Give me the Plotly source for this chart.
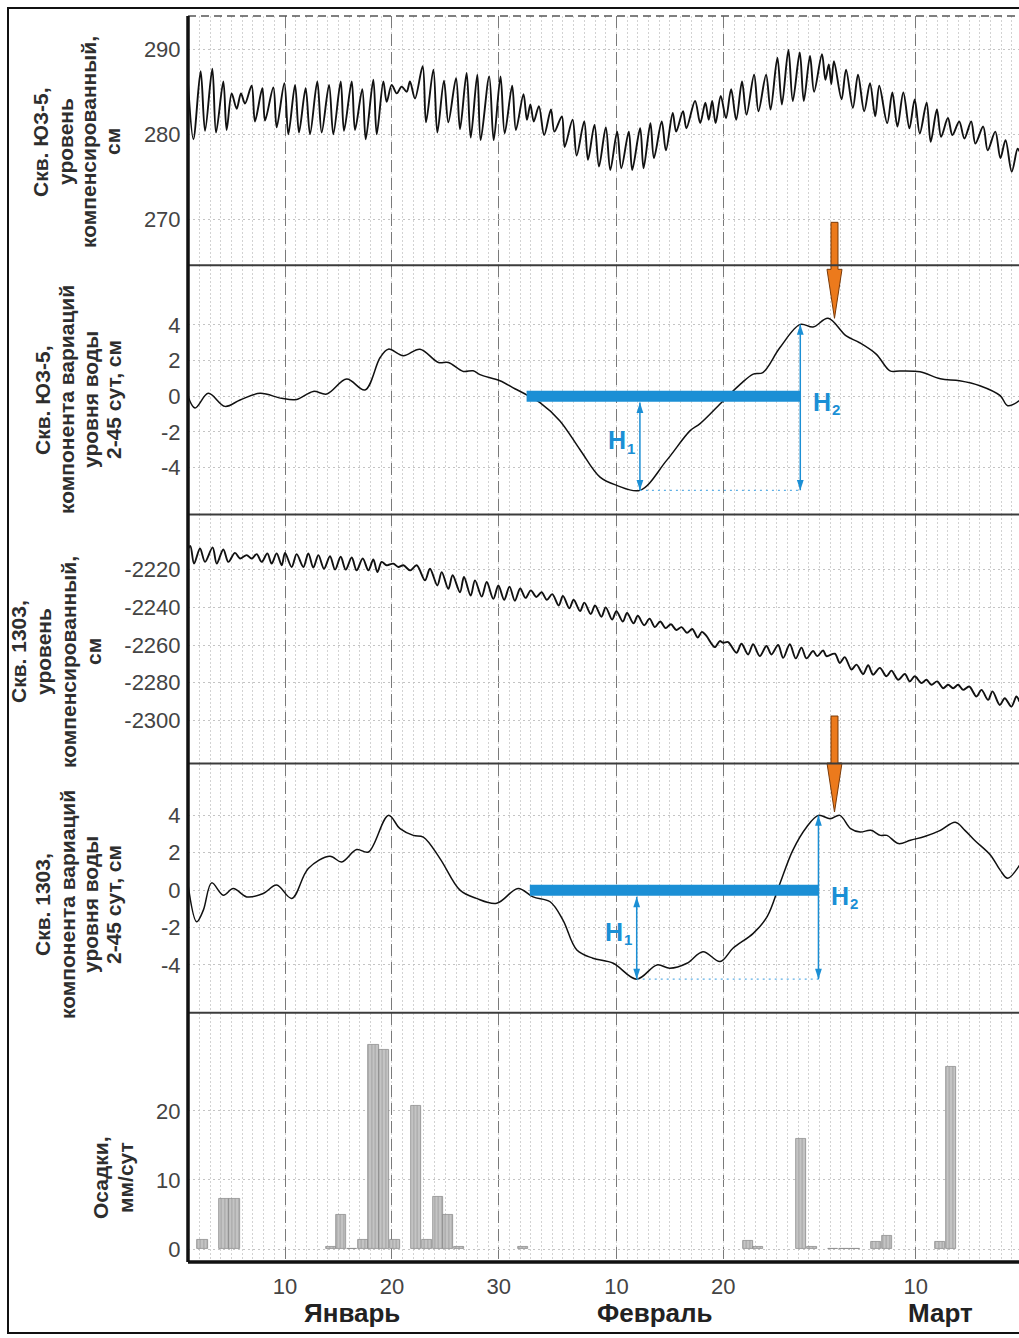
import plotly.graph_objects as go
from plotly.subplots import make_subplots

# ---------------- data (day numbers counted from 1 January) ----------------
# Well YuZ-5, compensated water level, cm (successive crests and troughs)
yz5_level_day = [0.93, 1.43, 2.11, 2.52, 3.20, 3.55, 4.23, 4.54, 5.01, 5.48, 5.88, 6.26, 6.88, 7.19,
                 7.88, 8.13, 8.91, 9.22, 9.94, 10.31, 10.94, 11.31, 11.93, 12.34, 13.02, 13.43, 14.12,
                 14.52, 15.21, 15.52, 16.24, 16.55, 17.23, 17.55, 18.26, 18.58, 19.20, 19.51, 19.98,
                 20.45, 20.91, 21.38, 21.69, 22.16, 22.88, 23.19, 23.88, 24.25, 24.87, 25.28, 26.00,
                 26.37, 26.99, 27.37, 27.99, 28.30, 29.10, 29.52, 30.16, 30.55, 31.25, 31.60, 32.31,
                 32.63, 32.95, 33.27, 33.75, 34.24, 34.88, 35.20, 35.90, 36.16, 36.90, 37.28, 37.99,
                 38.34, 38.95, 39.37, 40.01, 40.43, 41.07, 41.46, 42.16, 42.48, 43.22, 43.54, 44.18,
                 44.51, 45.24, 45.63, 46.27, 46.59, 47.23, 47.55, 48.36, 48.84, 49.32, 49.64, 49.96,
                 50.28, 50.76, 51.25, 51.73, 52.21, 52.75, 53.17, 53.88, 54.29, 55.00, 55.42, 56.06,
                 56.48, 57.09, 57.50, 58.15, 58.53, 59.11, 59.49, 60.23, 60.55, 60.87, 61.10, 61.35,
                 62.06, 62.48, 63.12, 63.60, 64.18, 64.72, 65.21, 65.59, 66.33, 66.81, 67.29, 67.84,
                 68.41, 68.90, 69.38, 70.02, 70.40, 70.98, 71.37, 72.01, 72.43, 73.07, 73.55, 74.19,
                 74.58, 75.31, 75.73, 76.44, 76.92, 77.40, 77.98, 78.53, 78.70]
yz5_level = [286.0, 279.4, 287.4, 280.4, 287.7, 280.2, 286.2, 280.5, 284.8, 283.0, 284.8, 283.6, 285.7,
             281.5, 285.4, 281.6, 285.5, 280.8, 286.0, 280.0, 285.8, 280.2, 285.4, 280.0, 286.2, 280.2,
             285.8, 280.0, 286.2, 280.4, 286.2, 280.5, 285.3, 279.4, 286.4, 280.0, 286.2, 283.8, 285.8,
             284.8, 285.6, 285.0, 286.2, 284.2, 288.0, 281.4, 287.6, 280.2, 286.3, 281.4, 286.6, 280.6,
             287.2, 279.6, 287.0, 279.3, 286.8, 279.3, 286.8, 280.1, 285.7, 280.5, 284.7, 281.7, 283.5,
             281.5, 283.3, 279.9, 282.9, 280.3, 282.1, 278.5, 281.7, 277.5, 281.5, 277.0, 281.1, 276.2,
             280.8, 275.8, 280.3, 276.0, 280.3, 275.8, 280.7, 276.0, 281.3, 277.2, 281.5, 278.1, 282.5,
             280.3, 282.7, 280.7, 283.9, 281.3, 283.7, 281.7, 283.9, 281.3, 284.5, 281.9, 285.3, 281.7,
             286.2, 282.3, 287.0, 282.7, 287.0, 282.9, 289.0, 283.5, 289.9, 283.9, 289.6, 283.9, 289.2,
             285.0, 289.4, 286.4, 288.2, 285.9, 288.6, 284.1, 287.6, 283.1, 287.0, 282.7, 286.0, 282.1,
             285.7, 281.3, 284.9, 280.9, 284.9, 280.7, 284.1, 280.1, 283.7, 279.1, 282.9, 279.7, 281.9,
             279.9, 281.5, 279.5, 281.5, 278.9, 280.9, 278.1, 280.3, 277.2, 279.3, 275.6, 278.3, 278.0]

# Well YuZ-5, 2-45 day component of level variations, cm
yz5_comp_day = [0.93, 1.58, 2.83, 4.39, 5.8, 7.67, 9.69, 11.09, 12.65, 13.9, 15.77, 17.48, 18.9, 19.67,
                21.07, 22.63, 24.35, 25.28, 26.68, 27.6, 28.24, 30.1, 31.5, 32.6, 33.85, 35.7, 37.6,
                39.47, 41.03, 43.2, 45.7, 47.9, 48.8, 51.0, 52.6, 53.8, 54.7, 56.3, 58.2, 59.4, 60.8,
                62.5, 63.75, 65.3, 66.6, 67.5, 69.4, 71.3, 73.1, 75.0, 76.9, 77.6, 78.7]
yz5_comp = [0.0, -0.66, 0.16, -0.57, -0.21, 0.16, -0.12, -0.18, 0.27, 0.12, 0.96, 0.35, 2.17, 2.64,
            2.27, 2.64, 1.89, 1.89, 1.39, 1.43, 1.21, 0.87, 0.42, 0.08, -0.36, -1.37, -3.0,
            -4.54, -5.0, -5.28, -3.6, -1.93, -1.55, -0.25, 0.68, 1.24, 1.33, 2.73, 4.03, 3.88, 4.37,
            3.38, 3.0, 2.36, 1.42, 1.42, 1.37, 0.98, 0.87, 0.59, 0.03, -0.53, -0.25]

# Well 1303, compensated water level, cm (successive crests and troughs)
w1303_level_day = [0.93, 1.15, 1.49, 2.05, 2.52, 3.23, 3.61, 4.23, 4.70, 5.32, 5.79, 6.41, 6.88, 7.35,
                   7.82, 8.35, 8.75, 9.22, 9.69, 10.00, 10.62, 11.09, 11.72, 12.18, 12.65, 13.12,
                   13.65, 14.21, 14.68, 15.21, 15.68, 16.24, 16.70, 17.27, 17.80, 18.26, 18.64, 19.04,
                   19.51, 20.13, 20.60, 21.07, 21.70, 22.32, 23.10, 23.56, 24.25, 24.66, 25.28, 25.68,
                   26.37, 26.74, 27.37, 27.77, 28.40, 28.87, 29.49, 29.96, 30.5, 31.0, 31.5, 32.0,
                   32.5, 33.0, 33.5, 34.0, 34.5, 35.0, 35.6, 36.0, 36.6, 37.0, 37.6, 38.0, 38.6, 39.0,
                   39.6, 40.0, 40.6, 41.0, 41.6, 42.0, 42.6, 43.0, 43.6, 44.1, 44.6, 45.1, 45.6, 46.1,
                   46.6, 47.1, 47.6, 48.1, 48.6, 49.0, 49.42, 50.20, 50.67, 51.00, 51.45, 52.23,
                   52.70, 53.32, 53.79, 54.41, 55.04, 55.50, 56.13, 56.60, 57.22, 57.78, 58.31, 58.78,
                   59.40, 59.78, 60.34, 60.65, 61.43, 61.90, 62.36, 62.99, 63.46, 64.08, 64.55, 65.01,
                   65.64, 66.26, 66.73, 67.35, 67.98, 68.44, 68.91, 69.54, 70.00, 70.47, 71.00, 71.56,
                   72.03, 72.50, 72.97, 73.43, 74.00, 74.68, 75.15, 75.77, 76.18, 76.86, 77.33, 77.95,
                   78.42, 78.70]
w1303_level = [-2209.0, -2207.5, -2216.8, -2208.8, -2215.9, -2208.2, -2216.8, -2209.3, -2215.9,
               -2211.1, -2214.1, -2212.3, -2214.1, -2211.8, -2215.9, -2211.4, -2216.8, -2211.4,
               -2217.7, -2211.1, -2218.6, -2211.8, -2218.6, -2211.4, -2218.9, -2212.3, -2219.5,
               -2212.9, -2220.0, -2213.2, -2220.0, -2213.6, -2220.4, -2214.1, -2220.4, -2214.6,
               -2221.3, -2215.9, -2217.7, -2216.8, -2218.6, -2217.7, -2220.4, -2217.7, -2225.7,
               -2219.5, -2228.4, -2221.3, -2230.2, -2223.0, -2232.0, -2223.9, -2233.8, -2225.7,
               -2234.3, -2226.6, -2235.5, -2228.4, -2236.0, -2229.0, -2236.5, -2230.0, -2235.0,
               -2231.0, -2234.5, -2232.0, -2236.0, -2233.0, -2239.0, -2234.0, -2240.5, -2236.0,
               -2242.0, -2237.5, -2243.5, -2239.0, -2245.0, -2240.0, -2246.5, -2242.0, -2247.5,
               -2243.0, -2248.5, -2244.5, -2249.5, -2246.0, -2250.5, -2247.5, -2251.0, -2249.0,
               -2252.0, -2250.5, -2253.5, -2251.5, -2256.0, -2253.0, -2255.2, -2261.1, -2257.9,
               -2258.8, -2258.4, -2264.1, -2259.3, -2265.0, -2259.6, -2265.9, -2260.5, -2265.0,
               -2260.0, -2266.8, -2259.6, -2267.1, -2261.4, -2267.1, -2263.2, -2265.9, -2262.9,
               -2265.9, -2264.6, -2269.5, -2266.4, -2273.0, -2270.4, -2275.4, -2270.7, -2275.7,
               -2272.1, -2276.6, -2273.6, -2278.4, -2275.4, -2279.3, -2276.6, -2280.2, -2278.4,
               -2281.1, -2279.3, -2282.9, -2281.1, -2282.9, -2281.1, -2283.8, -2282.0, -2287.3,
               -2283.8, -2289.1, -2284.6, -2291.8, -2288.2, -2292.7, -2287.3, -2290.0]

# Well 1303, 2-45 day component of level variations, cm
w1303_comp_day = [0.93, 1.74, 2.36, 3.14, 4.23, 5.16, 6.42, 7.97, 9.22, 10.63, 12.18, 14.2, 15.3, 16.7,
                  17.8, 19.67, 20.76, 22.0, 22.94, 24.5, 26.37, 27.9, 29.8, 31.8, 33.2, 34.8, 36.0,
                  37.3, 38.8, 40.7, 42.9, 44.8, 46.0, 47.6, 49.1, 50.7, 51.9, 53.8, 55.1, 56.3, 57.5,
                  58.8, 59.9, 61.0, 61.9, 62.9, 63.8, 64.8, 65.7, 66.3, 67.4, 68.5, 69.9, 71.3, 72.7,
                  73.6, 74.5, 76.0, 76.9, 77.6, 78.7]
w1303_comp = [0.3, -1.69, -1.07, 0.39, -0.27, 0.09, -0.36, -0.18, 0.27, -0.44, 1.16, 1.81, 1.51, 2.17,
              2.04, 4.0, 3.29, 2.93, 2.84, 1.69, 0.0, -0.44, -0.7, 0.09, -0.36, -0.62, -1.6,
              -3.2, -3.64, -3.91, -4.76, -4.0, -4.18, -3.91, -3.29, -3.82, -3.11, -2.31, -1.42, 0.36, 2.13,
              3.38, 4.0, 3.82, 4.0, 3.29, 3.11, 3.2, 2.93, 2.93, 2.49, 2.67, 2.88, 3.2, 3.63,
              3.2, 2.67, 1.87, 1.07, 0.64, 1.33]

# Daily precipitation, mm/day
precip_day = [2, 4, 5, 14, 15, 16, 17, 18, 19, 20, 22, 23, 24, 25, 26, 32, 53, 54, 58, 59, 61, 62,
              63, 65, 66, 71, 72]
precip_mm = [1.4, 7.3, 7.3, 0.3, 5.0, 0.1, 1.3, 29.6, 28.9, 1.3, 20.7, 1.4, 7.6, 4.9, 0.3, 0.3, 1.2,
             0.3, 16.0, 0.3, 0.1, 0.1, 0.1, 1.1, 1.9, 1.1, 26.4]

# Axis labelling
tick_days = [10, 20, 30, 41, 51, 69]
tick_text = ["10", "20", "30", "10", "20", "10"]
month_names = ["Январь", "Февраль", "Март"]
month_centers = [16.3, 44.6, 71.3]
y_ticks = [[270, 280, 290], [-4, -2, 0, 2, 4], [-2300, -2280, -2260, -2240, -2220],
           [-4, -2, 0, 2, 4], [0, 10, 20]]

# H1 / H2 construction for the two filtered series (rows 2 and 4)
h_start_day = [32.6, 32.9]
h_min_day = [43.2, 42.9]
h_min_val = [-5.28, -4.76]
h_peak_day = [58.2, 59.9]
h_peak_val = [4.03, 4.0]
h1_top = -0.35
event_day = 61.4
event_val = [4.37, 4.18]

# ---------------- figure ----------------
FONT = "Liberation Sans, Arial, sans-serif"
BLUE = "#1b8fd5"
ORANGE = "#ec7a1c"
W, H = 1019, 1338
ML, MT, MB = 188, 16, 76
PW, PH = W - ML, H - MT - MB

x_range = [0.926, 78.66]
y_ranges = [[264.6, 293.9], [-6.63, 7.35], [-2322.9, -2190.7], [-6.56, 6.77], [-1.88, 34.2]]
domains = [[0.8, 1.0], [0.6, 0.8], [0.4, 0.6], [0.2, 0.4], [0.0, 0.2]]

fig = make_subplots(rows=5, cols=1, shared_xaxes=True, vertical_spacing=0)

line_kw = dict(mode="lines", showlegend=False, hoverinfo="skip")
fig.add_trace(go.Scatter(x=yz5_level_day, y=yz5_level, line=dict(color="#111", width=1.9, shape="spline", smoothing=0.9), **line_kw), row=1, col=1)
fig.add_trace(go.Scatter(x=yz5_comp_day, y=yz5_comp, line=dict(color="#111", width=1.5, shape="spline", smoothing=1.0), **line_kw), row=2, col=1)
fig.add_trace(go.Scatter(x=w1303_level_day, y=w1303_level, line=dict(color="#111", width=1.9, shape="spline", smoothing=0.9), **line_kw), row=3, col=1)
fig.add_trace(go.Scatter(x=w1303_comp_day, y=w1303_comp, line=dict(color="#111", width=1.5, shape="spline", smoothing=1.0), **line_kw), row=4, col=1)
fig.add_trace(go.Bar(x=precip_day, y=precip_mm, width=0.95, offset=-0.2, showlegend=False, hoverinfo="skip",
                     marker=dict(color="#bdbdbd", line=dict(color="#858585", width=0.7),
                                 pattern=dict(shape="|", fgcolor="#8a8a8a", bgcolor="#c4c4c4", size=3.5, solidity=0.35))),
              row=5, col=1)

# H1 / H2 markup on the filtered series
for i, row in enumerate([2, 4]):
    xr, yr = f"x{row}", f"y{row}"
    # horizontal reference bar at zero
    fig.add_trace(go.Scatter(x=[h_start_day[i], h_peak_day[i]], y=[0, 0], mode="lines",
                             line=dict(color=BLUE, width=11), showlegend=False, hoverinfo="skip"), row=row, col=1)
    # dotted line joining the trough level to the H2 arrow
    fig.add_trace(go.Scatter(x=[h_min_day[i], h_peak_day[i]], y=[h_min_val[i], h_min_val[i]], mode="lines",
                             line=dict(color="#5fb0e6", width=1.3, dash="2px,4px"), showlegend=False, hoverinfo="skip"),
                  row=row, col=1)
    # H1 and H2 double-headed arrows
    arrow_marker = dict(symbol="arrow", size=11, angle=[0, 180], color=BLUE, line=dict(width=0))
    fig.add_trace(go.Scatter(x=[h_min_day[i], h_min_day[i]], y=[h1_top, h_min_val[i]], mode="lines+markers",
                             line=dict(color=BLUE, width=1.5), marker=arrow_marker,
                             showlegend=False, hoverinfo="skip", cliponaxis=False), row=row, col=1)
    fig.add_trace(go.Scatter(x=[h_peak_day[i], h_peak_day[i]], y=[h_peak_val[i], h_min_val[i]], mode="lines+markers",
                             line=dict(color=BLUE, width=1.5), marker=arrow_marker,
                             showlegend=False, hoverinfo="skip", cliponaxis=False), row=row, col=1)
    # "H" letters with their index set as a smaller, lowered label
    for hx, hy, idx in [(h_min_day[i] - 2.1, h_min_val[i] * 0.47, "1"), (h_peak_day[i] + 2.0, -0.3, "2")]:
        fig.add_annotation(x=hx, y=hy, xref=xr, yref=yr, showarrow=False, text="<b>H</b>",
                           font=dict(family=FONT, size=25, color=BLUE))
        fig.add_annotation(x=hx, y=hy, xref=xr, yref=yr, showarrow=False, text=f"<b>{idx}</b>",
                           xshift=14, yshift=-8, font=dict(family=FONT, size=15, color=BLUE))
    # orange event arrow pointing at the crest
    d0, d1 = domains[row - 1]
    r0, r1 = y_ranges[row - 1]
    tip = d0 + (event_val[i] - r0) / (r1 - r0) * (d1 - d0)
    fig.add_shape(type="path", xref="x", yref="paper", xsizemode="pixel", ysizemode="pixel",
                  xanchor=event_day, yanchor=tip,
                  path="M -3.5,96 L 3.5,96 L 3.5,49 L 7.5,49 L 0,0 L -7.5,49 L -3.5,49 Z",
                  fillcolor=ORANGE, line=dict(color="#7a3a08", width=1), layer="above")

# axes
for r in range(1, 6):
    fig.update_yaxes(row=r, col=1, range=y_ranges[r - 1], domain=domains[r - 1], tickmode="array",
                     tickvals=y_ticks[r - 1], ticktext=[f"{v:d}" for v in y_ticks[r - 1]],
                     showgrid=True, gridcolor="#c4c4c4", griddash="2px,3px",
                     gridwidth=1, zeroline=False, showline=False, ticks="outside", ticklen=2,
                     tickcolor="rgba(0,0,0,0)", tickfont=dict(family=FONT, size=22, color="#444"))
    fig.update_xaxes(row=r, col=1, range=x_range, tickmode="array", tickvals=tick_days,
                     ticktext=tick_text, showgrid=True, gridcolor="#7a7a7a", griddash="12px,6px",
                     gridwidth=1.4, zeroline=False, showline=False, showticklabels=(r == 5),
                     ticks="outside" if r == 5 else "", ticklen=5, tickcolor="rgba(0,0,0,0)",
                     tickfont=dict(family=FONT, size=22, color="#444"),
                     minor=dict(tickmode="linear", tick0=0, dtick=1, showgrid=True,
                                gridcolor="#d2d2d2", griddash="2px,2px", gridwidth=1))

# panel separators, frame lines
for yb in [0.2, 0.4, 0.6, 0.8]:
    fig.add_shape(type="line", xref="paper", yref="paper", x0=0, x1=1.01, y0=yb, y1=yb,
                  line=dict(color="#3c3c3c", width=2), layer="above")
fig.add_shape(type="line", xref="paper", yref="paper", x0=0, x1=1.01, y0=1, y1=1,
              line=dict(color="#555", width=1.6, dash="8px,5px"), layer="above")
fig.add_shape(type="line", xref="paper", yref="paper", x0=0, x1=1.01, y0=0, y1=0,
              line=dict(color="#111", width=3.5), layer="above")
fig.add_shape(type="line", xref="paper", yref="paper", x0=0, x1=0, y0=0, y1=1,
              line=dict(color="#111", width=3.5), layer="above")
# outer border of the figure
fx0 = (8 - ML) / PW
fy0 = (MT + PH - 1333) / PH
fy1 = (MT + PH - 8) / PH
fig.add_shape(type="rect", xref="paper", yref="paper", x0=fx0, x1=1.05, y0=fy0, y1=fy1,
              line=dict(color="#111", width=2), fillcolor="rgba(0,0,0,0)", layer="above")

# y-axis titles, one rotated line each: (text, x pixel, y pixel of centre)
title_lines = [
    ("Скв. ЮЗ-5,", 40, 142), ("уровень", 65, 142), ("компенсированный,", 88, 142), ("см", 112, 142),
    ("Скв. ЮЗ-5,", 42, 400), ("компонента вариаций", 66, 400), ("уровня воды", 90, 400), ("2-45 сут, см", 113, 400),
    ("Скв. 1303,", 18, 652), ("уровень", 43, 652), ("компенсированный,", 68, 662), ("см", 93, 652),
    ("Скв. 1303,", 42, 905), ("компонента вариаций", 67, 905), ("уровня воды", 90, 905), ("2-45 сут, см", 113, 905),
    ("Осадки,", 100, 1178), ("мм/сут", 125, 1178),
]
for txt, px, py in title_lines:
    fig.add_annotation(text=f"<b>{txt}</b>", xref="paper", yref="paper", x=(px - ML) / PW,
                       y=(MT + PH - py) / PH, xanchor="center", yanchor="middle", textangle=-90,
                       showarrow=False, font=dict(family=FONT, size=21, color="#2e2e2e"))

# month names under the day ticks
for name, c in zip(month_names, month_centers):
    fig.add_annotation(text=f"<b>{name}</b>", xref="x5", yref="paper", x=c, y=(MT + PH - 1313) / PH,
                       xanchor="center", yanchor="middle", showarrow=False,
                       font=dict(family=FONT, size=26, color="#222"))

fig.update_layout(width=W, height=H, margin=dict(l=ML, r=0, t=MT, b=MB), plot_bgcolor="white",
                  paper_bgcolor="white", bargap=0, showlegend=False)

fig.write_html("out.html")
